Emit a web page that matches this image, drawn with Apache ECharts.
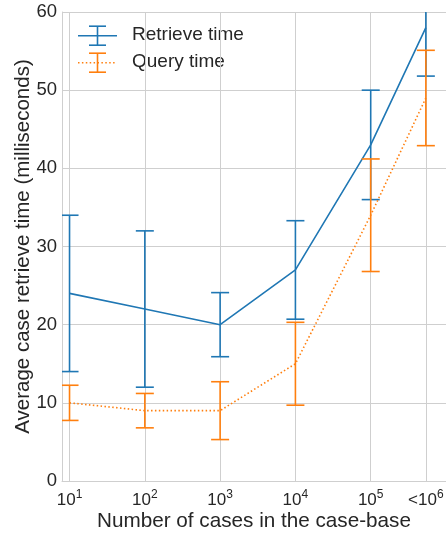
<!DOCTYPE html>
<html>
<head>
<meta charset="utf-8">
<script src="https://cdn.jsdelivr.net/npm/echarts@6/dist/echarts.min.js"></script>
<style>
html,body{margin:0;padding:0;background:#fff;}
#chart{width:446px;height:533px;}
</style>
</head>
<body>
<div id="chart"></div>
<script>
// ---- data ----
const caseCounts = [10, 100, 1000, 10000, 100000, 540000];
const xTickLabels = ['10^1', '10^2', '10^3', '10^4', '10^5', '<10^6'];
const retrieveMean = [24, 22, 20, 27, 43, 58];
const retrieveErr = [10, 10, 4.1, 6.3, 7, 6.2];
const queryMean = [10, 9, 9, 15, 34, 49];
const queryErr = [2.25, 2.2, 3.7, 5.3, 7.2, 6.1];
const yTicks = [0, 10, 20, 30, 40, 50, 60];

const BLUE = '#1f77b4', ORANGE = '#ff7f0e', TXT = '#262626', GRID = '#cfcfcf';
const FONT = '"Liberation Sans", Arial, Helvetica, sans-serif';

const xPos = caseCounts.map(v => Math.log10(v));

function lineData(mean) { return mean.map((m, i) => [xPos[i], m]); }
function errData(mean, err) { return mean.map((m, i) => [xPos[i], m - err[i], m + err[i]]); }

function errRender(color) {
  return function (params, api) {
    const x = api.value(0);
    const p1 = api.coord([x, api.value(1)]);
    const p2 = api.coord([x, api.value(2)]);
    const w = 9;
    const st = { stroke: color, lineWidth: 1.6 };
    return {
      type: 'group',
      children: [
        { type: 'line', shape: { x1: p1[0], y1: p1[1], x2: p2[0], y2: p2[1] }, style: st },
        { type: 'line', shape: { x1: p1[0] - w, y1: p1[1], x2: p1[0] + w, y2: p1[1] }, style: st },
        { type: 'line', shape: { x1: p2[0] - w, y1: p2[1], x2: p2[0] + w, y2: p2[1] }, style: st }
      ]
    };
  };
}

function legendGlyph(cy, color, dotted) {
  const st = { stroke: color, lineWidth: 1.6 };
  return [
    { type: 'line', shape: { x1: 78, y1: cy, x2: 117, y2: cy },
      style: { stroke: color, lineWidth: 1.6, lineDash: dotted ? [1.5, 2.4] : null } },
    { type: 'line', shape: { x1: 97.5, y1: cy - 9.5, x2: 97.5, y2: cy + 9.5 }, style: st },
    { type: 'line', shape: { x1: 89, y1: cy - 9.5, x2: 106, y2: cy - 9.5 }, style: st },
    { type: 'line', shape: { x1: 89, y1: cy + 9.5, x2: 106, y2: cy + 9.5 }, style: st }
  ];
}

const chart = echarts.init(document.getElementById('chart'), null, { renderer: 'canvas' });

chart.setOption({
  backgroundColor: '#fff',
  animation: false,
  textStyle: { fontFamily: FONT },
  grid: { left: 62, right: 0, top: 12, bottom: 52, containLabel: false, outerBoundsMode: 'none' },
  xAxis: {
    type: 'value',
    min: 0.9,
    max: 6.0,
    name: 'Number of cases in the case-base',
    nameLocation: 'middle',
    nameGap: 30,
    nameMoveOverlap: false,
    nameTextStyle: { fontSize: 20.7, color: TXT, fontFamily: FONT },
    axisLine: { show: true, lineStyle: { color: GRID, width: 1 } },
    axisTick: { show: false, customValues: xPos },
    splitLine: { show: true, lineStyle: { color: GRID, width: 1 } },
    axisLabel: {
      customValues: xPos,
      margin: 8,
      color: TXT,
      formatter: function (v) {
        let idx = 0, best = Infinity;
        xPos.forEach((p, i) => { const d = Math.abs(p - v); if (d < best) { best = d; idx = i; } });
        const parts = xTickLabels[idx].split('^');
        return '{b|' + parts[0] + '}{s|' + parts[1] + '}';
      },
      rich: {
        b: { fontSize: 17, color: TXT, fontFamily: FONT, lineHeight: 20, verticalAlign: 'bottom' },
        s: { fontSize: 12, color: TXT, fontFamily: FONT, lineHeight: 12, verticalAlign: 'top' }
      }
    }
  },
  yAxis: {
    type: 'value',
    min: 0,
    max: 60,
    interval: 10,
    name: 'Average case retrieve time (milliseconds)',
    nameLocation: 'middle',
    nameGap: 28,
    nameMoveOverlap: false,
    nameTextStyle: { fontSize: 20.5, color: TXT, fontFamily: FONT },
    axisLine: { show: true, lineStyle: { color: GRID, width: 1 } },
    axisTick: { show: false },
    splitLine: { show: true, lineStyle: { color: GRID, width: 1 } },
    axisLabel: {
      margin: 5,
      fontSize: 18.5,
      color: TXT,
      fontFamily: FONT,
      formatter: v => (yTicks.indexOf(v) >= 0 ? String(v) : '')
    }
  },
  graphic: [
    ...legendGlyph(35.7, BLUE, false),
    ...legendGlyph(62.7, ORANGE, true),
    { type: 'text', left: 132, top: 36.5 - 11, style: { text: 'Retrieve time', fontSize: 19, fill: TXT, fontFamily: FONT, textVerticalAlign: 'top' } },
    { type: 'text', left: 132, top: 63 - 11, style: { text: 'Query time', fontSize: 19, fill: TXT, fontFamily: FONT, textVerticalAlign: 'top' } }
  ],
  series: [
    {
      name: 'Retrieve time', type: 'line', data: lineData(retrieveMean),
      showSymbol: false, symbol: 'none', clip: true,
      lineStyle: { color: BLUE, width: 1.6 }, z: 2
    },
    {
      name: 'Retrieve time err', type: 'custom', data: errData(retrieveMean, retrieveErr),
      renderItem: errRender(BLUE), clip: true, z: 3
    },
    {
      name: 'Query time', type: 'line', data: lineData(queryMean),
      showSymbol: false, symbol: 'none', clip: true,
      lineStyle: { color: ORANGE, width: 1.6, type: [1.5, 2.4] }, z: 4
    },
    {
      name: 'Query time err', type: 'custom', data: errData(queryMean, queryErr),
      renderItem: errRender(ORANGE), clip: true, z: 5
    }
  ]
});
</script>
</body>
</html>
